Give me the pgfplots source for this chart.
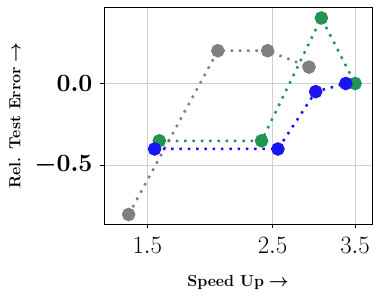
\documentclass[border=0pt]{standalone}
\usepackage{amsmath}
\usepackage{pgfplots}
\pgfplotsset{compat=1.18}
\definecolor{cgray}{RGB}{128,128,128}
\definecolor{cgreen}{RGB}{34,148,82}
\definecolor{cblue}{RGB}{24,20,242}
\begin{document}
\begin{tikzpicture}[x=1pt,y=1pt]
\useasboundingbox (-104pt,-72pt) rectangle (275pt,224pt);
\begin{axis}[
  at={(0,0)}, anchor=south west,
  scale only axis,
  width=268pt, height=217pt,
  xmode=log,
  xmin=1.257, xmax=3.75,
  ymin=-0.858, ymax=0.467,
  xtick={1.5,2.5,3.5},
  xticklabels={$1.5$,$2.5$,$3.5$},
  ytick={-0.5,0},
  yticklabels={$\boldsymbol{-0.5}$,$\mathbf{0.0}$},
  minor xtick={},
  minor ytick={},
  grid=major,
  major grid style={line width=0.6pt, black!18},
  axis line style={line width=0.9pt},
  tick align=outside,
  tick pos=left,
  major tick length=4pt,
  tick style={line width=0.6pt, black},
  xticklabel style={font=\fontsize{26}{26}\selectfont, yshift=-6pt},
  yticklabel style={font=\fontsize{30}{30}\selectfont\boldmath, xshift=-4pt},
  xlabel={\textbf{Speed Up} $\boldsymbol{\rightarrow}$},
  ylabel={\textbf{Rel. Test Error} $\boldsymbol{\rightarrow}$},
  xlabel style={font=\fontsize{16}{16}\selectfont, at={(axis description cs:0.5,0)}, anchor=base, yshift=-62pt},
  ylabel style={font=\fontsize{16}{16}\selectfont, at={(axis description cs:-0.332,0.5)}, anchor=center},
  every axis plot/.append style={line width=2.5pt, dash pattern=on 2.5pt off 5.8pt, mark=*, mark size=5.5pt},
]
\addplot[cgray, mark options={solid, fill=cgray, draw=cgray}] coordinates {(1.39,-0.8) (2.0,0.2) (2.45,0.2) (2.9,0.1)};
\addplot[cgreen, mark options={solid, fill=cgreen, draw=cgreen}] coordinates {(1.575,-0.35) (2.39,-0.35) (3.05,0.4) (3.5,0.0)};
\addplot[cblue, mark options={solid, fill=cblue, draw=cblue}] coordinates {(1.545,-0.4) (2.555,-0.4) (2.98,-0.05) (3.37,0.0)};
\end{axis}
\end{tikzpicture}
\end{document}
